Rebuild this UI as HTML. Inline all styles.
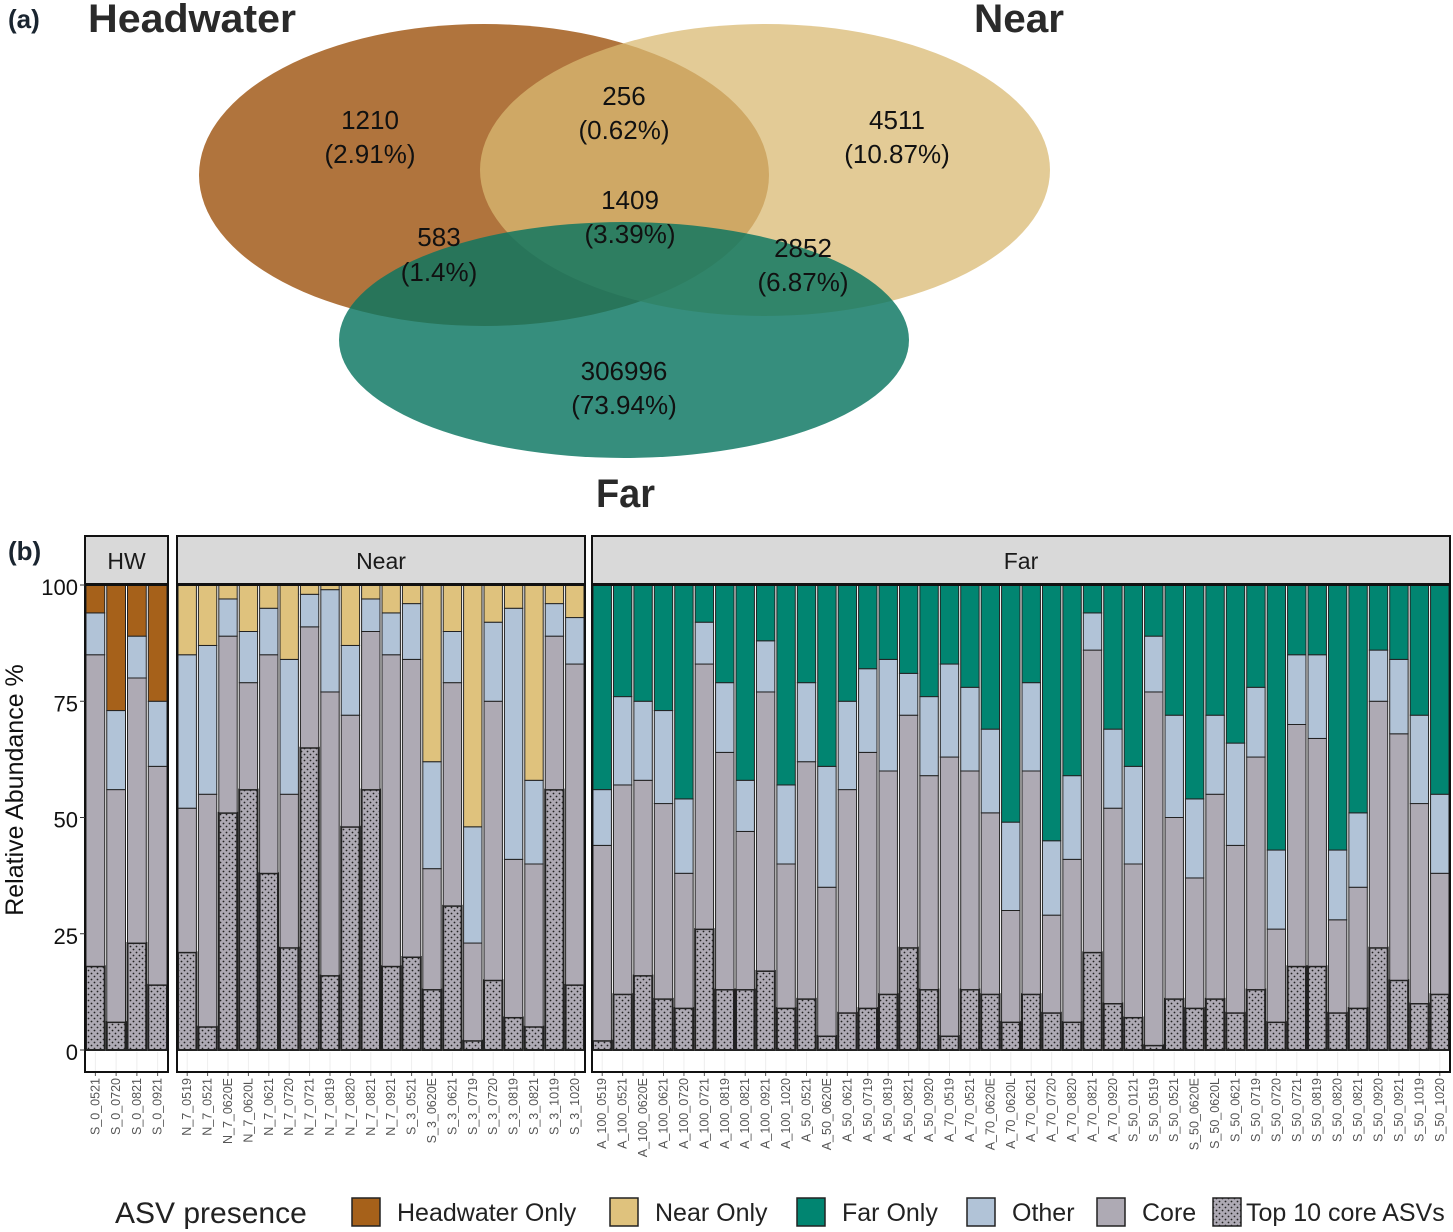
<!DOCTYPE html>
<html><head><meta charset="utf-8"><style>
body{margin:0;background:#fff;width:1453px;height:1232px;overflow:hidden;font-family:"Liberation Sans",sans-serif}
svg{display:block}
</style></head><body>
<svg id="fig" width="1453" height="1232" xmlns="http://www.w3.org/2000/svg">
<defs>
<pattern id="dots" width="6" height="6" patternUnits="userSpaceOnUse">
<rect width="6" height="6" fill="#aeaab4"/><circle cx="1.5" cy="1.5" r="0.9" fill="#222"/><circle cx="4.5" cy="4.5" r="0.9" fill="#222"/>
</pattern>
</defs>
<g>
<text x="8" y="28" font-size="26" font-weight="bold" fill="#1a2530">(a)</text>
<text x="88" y="32" font-size="40" font-weight="bold" fill="#2a2a2a" textLength="208" lengthAdjust="spacingAndGlyphs">Headwater</text>
<text x="974" y="32" font-size="40" font-weight="bold" fill="#2a2a2a" textLength="90" lengthAdjust="spacingAndGlyphs">Near</text>
<text x="596" y="507" font-size="40" font-weight="bold" fill="#2a2a2a" textLength="59" lengthAdjust="spacingAndGlyphs">Far</text>
<ellipse cx="484" cy="175" rx="285" ry="151" fill="#b0743d"/>
<ellipse cx="765" cy="170" rx="285" ry="146" fill="#d9ba73" fill-opacity="0.75"/>
<ellipse cx="624" cy="340" rx="285" ry="118" fill="#0a7560" fill-opacity="0.82"/>
<g font-size="26" fill="#111" text-anchor="middle">
<text x="370" y="129">1210</text><text x="370" y="163">(2.91%)</text>
<text x="624" y="105">256</text><text x="624" y="139">(0.62%)</text>
<text x="897" y="129">4511</text><text x="897" y="163">(10.87%)</text>
<text x="630" y="209">1409</text><text x="630" y="243">(3.39%)</text>
<text x="439" y="246">583</text><text x="439" y="281">(1.4%)</text>
<text x="803" y="257">2852</text><text x="803" y="291">(6.87%)</text>
<text x="624" y="380">306996</text><text x="624" y="414">(73.94%)</text>
</g>
</g>
<text x="8" y="560" font-size="26" font-weight="bold" fill="#1a2530">(b)</text>
<g id="chart"></g>
<g id="legend"></g>
</svg>
<script>
const hwCats=["S_0_0521","S_0_0720","S_0_0821","S_0_0921"];
const hwTop10=[18,6,23,14];
const hwCore=[85,56,80,61];
const hwOther=[94,73,89,75];
const nearCats=["N_7_0519","N_7_0521","N_7_0620E","N_7_0620L","N_7_0621","N_7_0720","N_7_0721","N_7_0819","N_7_0820","N_7_0821","N_7_0921","S_3_0521","S_3_0620E","S_3_0621","S_3_0719","S_3_0720","S_3_0819","S_3_0821","S_3_1019","S_3_1020"];
const nearTop10=[21,5,51,56,38,22,65,16,48,56,18,20,13,31,2,15,7,5,56,14];
const nearCore=[52,55,89,79,85,55,91,77,72,90,85,84,39,79,23,75,41,40,89,83];
const nearOther=[85,87,97,90,95,84,98,99,87,97,94,96,62,90,48,92,95,58,96,93];
const farCats=["A_100_0519","A_100_0521","A_100_0620E","A_100_0621","A_100_0720","A_100_0721","A_100_0819","A_100_0821","A_100_0921","A_100_1020","A_50_0521","A_50_0620E","A_50_0621","A_50_0719","A_50_0819","A_50_0821","A_50_0920","A_70_0519","A_70_0521","A_70_0620E","A_70_0620L","A_70_0621","A_70_0720","A_70_0820","A_70_0821","A_70_0920","S_50_0121","S_50_0519","S_50_0521","S_50_0620E","S_50_0620L","S_50_0621","S_50_0719","S_50_0720","S_50_0721","S_50_0819","S_50_0820","S_50_0821","S_50_0920","S_50_0921","S_50_1019","S_50_1020"];
const farTop10=[2,12,16,11,9,26,13,13,17,9,11,3,8,9,12,22,13,3,13,12,6,12,8,6,21,10,7,1,11,9,11,8,13,6,18,18,8,9,22,15,10,12];
const farCore=[44,57,58,53,38,83,64,47,77,40,62,35,56,64,60,72,59,63,60,51,30,60,29,41,86,52,40,77,50,37,55,44,63,26,70,67,28,35,75,68,53,38];
const farOther=[56,76,75,73,54,92,79,58,88,57,79,61,75,82,84,81,76,83,78,69,49,79,45,59,94,69,61,89,72,54,72,66,78,43,85,85,43,51,86,84,72,55];
const yTicks=[0,25,50,75,100];

const NS="http://www.w3.org/2000/svg";
const chart=document.getElementById('chart');
const Y0=1050, PX=4.65, PTOP=585, PBOT=1072;
function y(v){return Y0-v*PX;}
function mk(tag,attrs,parent){const e=document.createElementNS(NS,tag);for(const k in attrs)e.setAttribute(k,attrs[k]);(parent||chart).appendChild(e);return e;}
const panels=[
 {name:"HW",x0:85,x1:168,cats:hwCats,t:hwTop10,c:hwCore,o:hwOther,col:"#a6611a"},
 {name:"Near",x0:177,x1:585,cats:nearCats,t:nearTop10,c:nearCore,o:nearOther,col:"#dfc27d"},
 {name:"Far",x0:592,x1:1450,cats:farCats,t:farTop10,c:farCore,o:farOther,col:"#018571"}
];
panels.forEach(p=>{
 const g=mk('g',{});
 
 
 const strip=mk('rect',{x:p.x0,y:536,width:p.x1-p.x0,height:48,fill:"#d9d9d9",stroke:"#111","stroke-width":2},g);
 
 
 const st=mk('text',{x:(p.x0+p.x1)/2,y:569,"font-size":23,"text-anchor":"middle",fill:"#1a1a1a"},g);
 st.textContent=p.name;
 
 
 const n=p.cats.length, bw=(p.x1-p.x0)/n;
 for(let i=0;i<n;i++){
  const x=p.x0+i*bw+1, w=bw-2;
  mk('line',{x1:x+w/2,x2:x+w/2,y1:1052,y2:PBOT,stroke:"#eee"},g);
  const segs=[[0,p.t[i],"url(#dots)","top10"],[p.t[i],p.c[i],"#aeaab4","core"],[p.c[i],p.o[i],"#b1c3d7","other"],[p.o[i],100,p.col,"only"]];
  segs.forEach(s=>{
   const r=mk('rect',{x:x,y:y(s[1]),width:w,height:(s[1]-s[0])*PX,fill:s[2],stroke:"#222","stroke-width":s[3]=="top10"?2:1},g);
   
   
  });
  mk('line',{x1:x+w/2,x2:x+w/2,y1:PBOT,y2:PBOT+4,stroke:"#555"},g);
  const lb=mk('text',{x:0,y:0,"font-size":12.5,fill:"#555","text-anchor":"end",transform:`translate(${x+w/2+4},${PBOT+6}) rotate(-90)`},g);
  lb.textContent=p.cats[i];
  
  
 }
 const fr=mk('rect',{x:p.x0,y:PTOP,width:p.x1-p.x0,height:PBOT-PTOP,fill:"none",stroke:"#111","stroke-width":2},g);
 
 
});
yTicks.forEach(v=>{
 const t=mk('text',{x:78,y:y(v)+10,"font-size":22,"text-anchor":"end",fill:"#111"});
 t.textContent=v;
 
 
 mk('line',{x1:80,x2:85,y1:y(v),y2:y(v),stroke:"#333"});
});
const yt=mk('text',{x:0,y:0,"font-size":25,"text-anchor":"middle",fill:"#111",transform:"translate(23,790) rotate(-90)"});
yt.textContent="Relative Abundance %";



const leg=document.getElementById('legend');
const lt=mk('text',{x:115,y:1223,"font-size":30,fill:"#222"},leg);
lt.textContent="ASV presence";


const items=[[352,"#a6611a","Headwater Only"],[610,"#dfc27d","Near Only"],[797,"#018571","Far Only"],[967,"#b1c3d7","Other"],[1097,"#aeaab4","Core"],[1213,"url(#dots)","Top 10 core ASVs"]];
items.forEach(it=>{
 const g=mk('g',{},leg);
 
 
 mk('rect',{x:it[0],y:1198,width:28,height:28,fill:it[1],stroke:"#222","stroke-width":1.5},g);
 const t=mk('text',{x:it[0]+(it[2].startsWith("Top")?33:45),y:1221,"font-size":25,fill:"#222"},g);
 t.textContent=it[2];
});
</script>
</body></html>
